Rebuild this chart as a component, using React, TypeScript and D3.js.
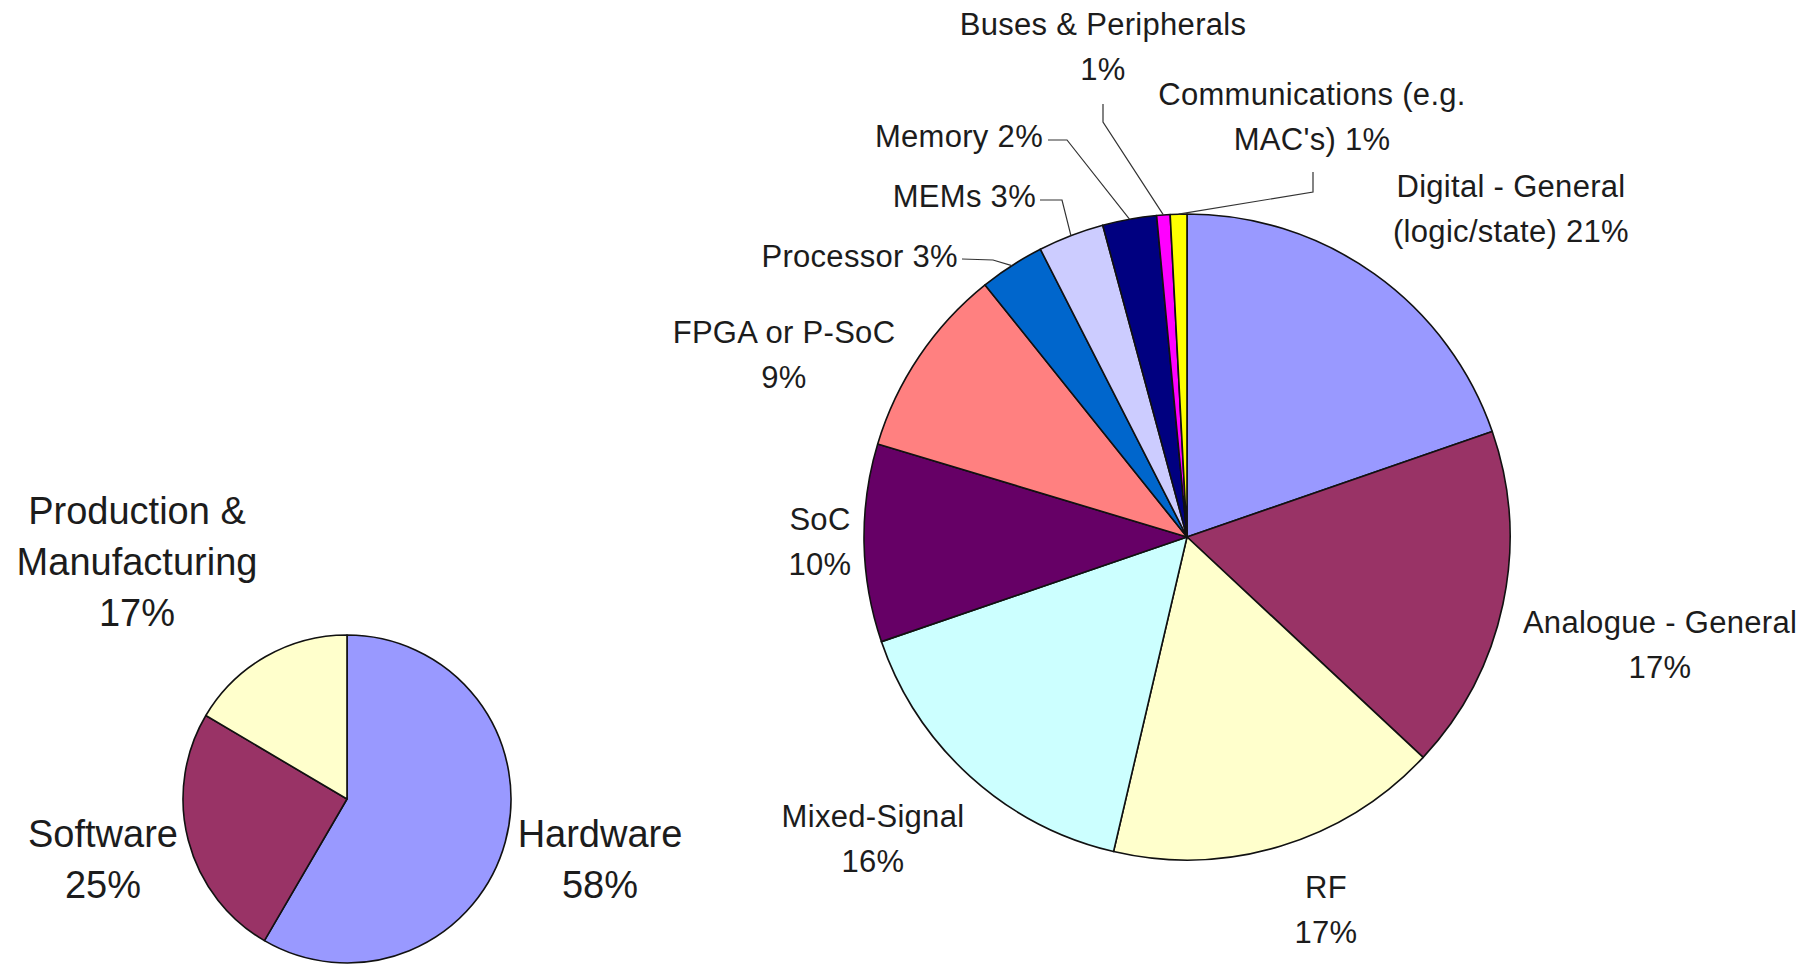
import React from "react"
import * as d3 from "d3"

// small pie: where the effort goes
const splitNames = ["Hardware", "Software", "Production & Manufacturing"]
const splitValues = [58.4, 25.1, 16.5]
const splitLabels = [["Hardware", "58%"], ["Software", "25%"], ["Production &", "Manufacturing", "17%"]]

// big pie: hardware broken down by type
const hwNames = [
  "Digital - General", "Analogue - General", "RF", "Mixed-Signal", "SoC", "FPGA or P-SoC",
  "Processor", "MEMs", "Memory", "Buses & Peripherals", "Communications",
]
const hwValues = [19.7, 17.25, 16.7, 16.1, 9.9, 9.6, 3.25, 3.3, 2.7, 0.67, 0.83]
const hwLabels = [
  ["Digital - General", "(logic/state) 21%"],
  ["Analogue - General", "17%"],
  ["RF", "17%"],
  ["Mixed-Signal", "16%"],
  ["SoC", "10%"],
  ["FPGA or P-SoC", "9%"],
  ["Processor 3%"],
  ["MEMs 3%"],
  ["Memory 2%"],
  ["Buses & Peripherals", "1%"],
  ["Communications (e.g.", "MAC's) 1%"],
]

// old excel palette
const splitColors = ["#9999ff", "#993366", "#ffffcc"]
const hwColors = [
  "#9999ff", "#993366", "#ffffcc", "#ccffff", "#660066", "#ff8080",
  "#0066cc", "#ccccff", "#000080", "#ff00ff", "#ffff00",
]

// label placement (first baseline, anchor, optional elbow of the leader line)
type Place = { x: number; y: number; anchor: string; elbow?: [number, number][] }
const splitPlaces: Place[] = [
  { x: 600, y: 847, anchor: "middle" },
  { x: 103, y: 847, anchor: "middle" },
  { x: 137, y: 524, anchor: "middle" },
]
const hwPlaces: Place[] = [
  { x: 1511, y: 197, anchor: "middle" },
  { x: 1660, y: 633, anchor: "middle" },
  { x: 1326, y: 898, anchor: "middle" },
  { x: 873, y: 827, anchor: "middle" },
  { x: 820, y: 530, anchor: "middle" },
  { x: 784, y: 343, anchor: "middle" },
  { x: 958, y: 267, anchor: "end", elbow: [[962, 259], [993, 260]] },
  { x: 1036, y: 207, anchor: "end", elbow: [[1040, 200], [1062, 200]] },
  { x: 1043, y: 147, anchor: "end", elbow: [[1048, 140], [1067, 140]] },
  { x: 1103, y: 35, anchor: "middle", elbow: [[1103, 104], [1103, 122]] },
  { x: 1312, y: 105, anchor: "middle", elbow: [[1313, 172], [1313, 192]] },
]

const FONT = "'Liberation Sans', Arial, Helvetica, sans-serif"

function PieGroup({ values, colors, labels, places, cx, cy, r, fontSize, lineH, spacing }: any) {
  const arcs = d3.pie<number>().sort(null)(values)
  const arc = d3.arc<d3.PieArcDatum<number>>().innerRadius(0).outerRadius(r)
  const rim = d3.arc<d3.PieArcDatum<number>>().innerRadius(r).outerRadius(r)
  const line = d3.line()

  return (
    <g>
      <g transform={`translate(${cx},${cy})`}>
        {arcs.map((a, i) => (
          <path key={i} d={arc(a) || ""} fill={colors[i]} stroke="#111" strokeWidth={1.6} strokeLinejoin="round" />
        ))}
      </g>
      {arcs.map((a, i) => {
        const p: Place = places[i]
        if (!p.elbow) return null
        const [ex, ey] = rim.centroid(a)
        const pts = [...p.elbow, [cx + ex, cy + ey]] as [number, number][]
        return <path key={"l" + i} d={line(pts) || ""} fill="none" stroke="#333" strokeWidth={1.2} />
      })}
      {labels.map((lines: string[], i: number) => {
        const p: Place = places[i]
        return (
          <text key={"t" + i} x={p.x} y={p.y} textAnchor={p.anchor} fontFamily={FONT}
            fontSize={fontSize} fill="#1c1c1c" letterSpacing={spacing}>
            {lines.map((s, j) => (
              <tspan key={j} x={p.x} dy={j === 0 ? 0 : lineH}>{s}</tspan>
            ))}
          </text>
        )
      })}
    </g>
  )
}

export default function App() {
  return (
    <svg width={1820} height={966} style={{ position: "absolute", left: 0, top: 0, background: "#fff" }}>
      <rect width={1820} height={966} fill="#fff" />
      <PieGroup values={splitValues} colors={splitColors} labels={splitLabels} places={splitPlaces}
        cx={347} cy={799} r={164} fontSize={38} lineH={51} spacing={0} />
      <PieGroup values={hwValues} colors={hwColors} labels={hwLabels} places={hwPlaces}
        cx={1187} cy={537} r={323} fontSize={31} lineH={45} spacing={0.3} />
    </svg>
  )
}
